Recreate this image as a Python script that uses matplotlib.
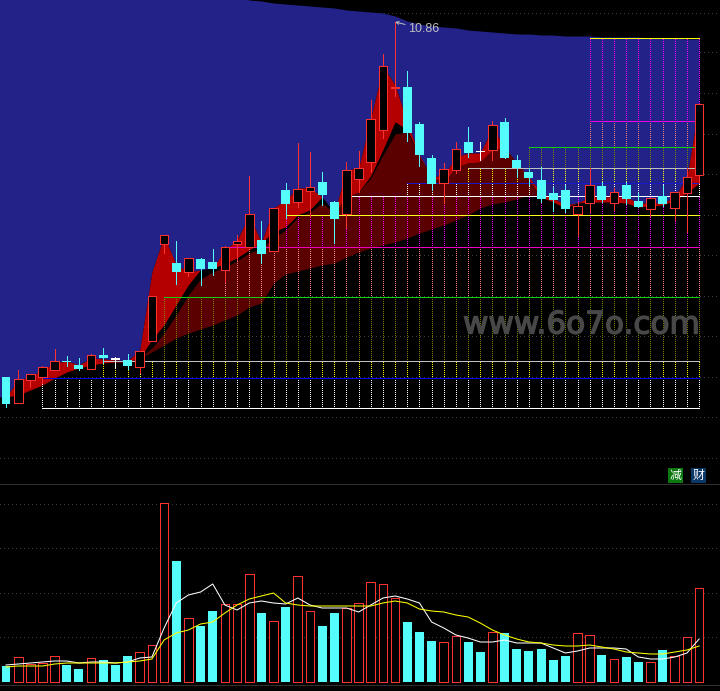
import numpy as np
import matplotlib
matplotlib.use('Agg')
import matplotlib.pyplot as plt
import matplotlib.patheffects as pe

# K线数据
open_p = [3.76, 3.24, 3.70, 3.76, 3.90, 4.08, 4.00, 3.92, 4.20, 4.11, 4.10, 3.96, 4.48, 6.42, 6.04, 5.86, 6.12, 6.06, 5.90, 6.42,
          6.36, 6.50, 6.28, 7.50, 7.26, 7.48, 7.66, 7.26, 7.02, 7.72, 8.06, 8.70, 9.55, 9.56, 8.82, 8.14, 7.64, 7.90, 8.46, 8.26,
          8.30, 8.86, 8.10, 7.86, 7.70, 7.44, 7.50, 7.02, 7.24, 7.58, 7.24, 7.60, 7.28, 7.12, 7.38, 7.14, 7.44, 7.80]
close_p = [3.22, 3.72, 3.82, 3.96, 4.08, 4.06, 3.92, 4.20, 4.14, 4.11, 3.98, 4.28, 5.38, 6.60, 5.86, 6.14, 5.92, 5.92, 6.36, 6.48,
           7.02, 6.22, 7.14, 7.22, 7.52, 7.56, 7.40, 6.92, 7.90, 7.94, 8.92, 9.98, 9.57, 8.64, 8.20, 7.62, 7.92, 8.32, 8.24, 8.26,
           8.80, 8.14, 7.94, 7.74, 7.32, 7.30, 7.12, 7.18, 7.60, 7.30, 7.46, 7.32, 7.16, 7.34, 7.22, 7.46, 7.76, 9.22]
high_p = [3.76, 3.90, 3.82, 3.98, 4.32, 4.18, 4.14, 4.22, 4.34, 4.16, 4.22, 4.28, 5.38, 6.60, 6.48, 6.14, 6.14, 6.32, 6.38, 6.60,
          7.78, 6.88, 7.14, 7.64, 8.44, 8.26, 7.86, 7.28, 8.06, 8.28, 9.30, 10.22, 10.86, 9.88, 8.86, 8.20, 8.04, 8.46, 8.76, 8.46,
          8.88, 8.94, 8.20, 7.94, 7.96, 7.56, 7.60, 7.26, 7.94, 7.66, 7.54, 7.66, 7.44, 7.34, 7.60, 7.46, 7.94, 9.22]
low_p = [3.16, 3.24, 3.56, 3.64, 3.90, 3.98, 3.90, 3.92, 4.04, 3.94, 3.92, 3.84, 4.48, 6.24, 5.62, 5.78, 5.60, 5.80, 5.66, 6.10,
         6.36, 6.04, 6.28, 6.94, 7.16, 6.96, 7.20, 6.44, 6.74, 7.46, 7.86, 8.54, 9.38, 8.48, 7.98, 7.50, 7.24, 7.84, 8.16, 8.10,
         8.10, 8.14, 7.76, 7.60, 7.26, 7.08, 7.06, 6.58, 7.06, 7.26, 7.10, 7.22, 7.16, 6.98, 7.18, 6.90, 6.66, 7.64]

# 背景几条曲线
band_top = [11.40] * 20 + [11.30, 11.28, 11.24, 11.22, 11.20, 11.18, 11.16, 11.14, 11.10, 11.08, 11.06, 11.04, 10.98, 10.88, 10.82, 10.78, 10.76, 10.74, 10.70, 10.68,
                           10.66, 10.64, 10.62, 10.62, 10.60, 10.60, 10.58, 10.58, 10.58, 10.56, 10.56, 10.56, 10.56, 10.54, 10.54, 10.54, 10.52, 10.52]
band_a = [3.36, 3.70, 3.76, 3.90, 4.04, 4.08, 4.00, 4.14, 4.12, 4.10, 4.08, 4.30, 5.86, 6.58, 6.00, 5.86, 5.90, 5.94, 6.30, 6.50,
          7.00, 6.44, 7.14, 7.30, 7.54, 7.54, 7.36, 7.04, 7.90, 7.94, 8.94, 9.96, 9.60, 8.84, 8.20, 7.76, 7.80, 8.16, 8.24, 8.24,
          8.74, 8.36, 8.04, 7.76, 7.44, 7.34, 7.20, 7.24, 7.36, 7.36, 7.36, 7.36, 7.24, 7.24, 7.24, 7.36, 7.76, 9.22]
band_d = [3.36, 3.40, 3.50, 3.60, 3.74, 3.86, 3.94, 4.00, 4.04, 4.06, 4.06, 4.14, 4.26, 4.40, 4.54, 4.64, 4.72, 4.80, 4.90, 5.00,
          5.16, 5.24, 5.64, 5.82, 5.88, 5.94, 6.00, 6.04, 6.16, 6.26, 6.34, 6.40, 6.46, 6.54, 6.64, 6.72, 6.80, 6.90, 7.00, 7.14,
          7.22, 7.26, 7.32, 7.40, 7.36, 7.26, 7.14, 7.24, 7.26, 7.26, 7.26, 7.24, 7.16, 7.18, 7.20, 7.30, 7.44, 7.64]
band_c = band_d[:12] + [4.34, 4.64, 5.00, 5.40, 5.72, 5.86, 5.96, 6.08,
                        6.24, 6.34, 6.54, 6.70, 6.96, 7.06, 7.24, 7.04, 7.36, 7.46, 7.74, 8.20, 8.62, 8.66, 8.16, 7.76, 7.64, 7.96, 8.04, 8.06,
                        8.30, 8.34, 8.04, 7.70] + band_d[44:]
band_b = band_d[:12] + [4.50, 4.80, 5.20, 5.60, 5.90, 5.94, 6.02, 6.14,
                        6.30, 6.44, 6.66, 6.76, 7.00, 7.10, 7.36, 7.04, 7.36, 7.46, 7.78, 8.30, 8.86, 8.70] + band_c[34:]

# 水平线和虚线
levels = [3.14, 3.74, 4.08, 5.36, 6.36, 7.00, 7.38, 7.64, 7.94, 8.36, 8.88, 10.54]
level_start = [3, 3, 8, 13, 18, 23, 28, 33, 38, 43, 48, 48]
level_colors = ['#ffffff', '#0000f0', '#c0c0c0', '#10d010', '#f000c0', '#ffff20', '#ffffff', '#1818c8', '#c0c0c0', '#10d010', '#f000e0', '#ffff00']
dot_colors = ['#ffffff', '#ffff00', '#808000', '#ff8080', '#ff00ff', '#ff00ff', '#ffffff', '#ffff00', '#808000', '#ff8080', '#ff00ff']
price_grid = [11.04, 10.26, 9.44, 8.62, 7.82, 7.00, 6.20, 5.38, 4.58, 3.76, 2.96, 2.14]

# 成交量
volume = [16, 25, 18, 19, 26, 17, 13, 24, 22, 17, 26, 30, 37, 179, 121, 64, 56, 71, 78, 78,
          108, 69, 61, 75, 106, 71, 56, 69, 74, 79, 100, 98, 84, 60, 50, 41, 40, 46, 40, 30,
          50, 49, 33, 31, 33, 22, 26, 49, 47, 27, 23, 25, 20, 20, 32, 26, 45, 94]
vol_ma5 = [17, 18, 19, 20, 21, 21, 19, 20, 20, 19, 20, 24, 25, 54, 79, 87, 90, 98, 77, 72,
           79, 81, 79, 78, 84, 77, 74, 74, 74, 70, 77, 84, 86, 83, 79, 60, 54, 47, 44, 40,
           40, 42, 39, 39, 39, 34, 29, 31, 34, 34, 34, 33, 25, 23, 23, 25, 29, 43]
vol_ma10 = [15, 16, 16, 16, 18, 19, 19, 19, 19, 19, 20, 21, 23, 42, 49, 52, 58, 60, 69, 77,
            83, 86, 89, 79, 77, 76, 76, 76, 76, 76, 76, 79, 81, 79, 73, 71, 70, 67, 65, 59,
            52, 47, 43, 40, 39, 37, 36, 36, 37, 35, 33, 30, 29, 28, 28, 30, 32, 36]
vol_grid = [178, 134, 89, 45]

RED = '#ff3232'
CYAN = '#54fcfc'
W = 720
H = 691
DIV = 483
xlim = (-6 / 12.16, (W - 6) / 12.16)

open_p = np.array(open_p)
close_p = np.array(close_p)
x = np.arange(len(open_p))
colors = np.where(close_p > open_p, RED, np.where(close_p < open_p, CYAN, '#ffffff'))
x_fill = np.r_[-1, x]


def ext(v):
    return np.r_[v[0], v]


fig = plt.figure(figsize=(W / 100, H / 100), dpi=100, facecolor='black')
ax = fig.add_axes([0, 1 - DIV / H, 1, DIV / H], facecolor='black')
ax2 = fig.add_axes([0, 0, 1, (H - DIV) / H], facecolor='black')

# 主图
for g in price_grid:
    ax.axhline(g, color='#3c3c3c', lw=0.72, ls=(0, (1, 4)), zorder=1, antialiased=False)
ax.fill_between(x_fill, ext(band_a), ext(band_top), color='#222288', lw=0, zorder=2)
ax.fill_between(x_fill, ext(band_b), ext(band_a), color='#b40000', lw=0, zorder=2)
ax.fill_between(x_fill, ext(band_c), ext(band_b), color='black', lw=0, zorder=2)
ax.fill_between(x_fill, ext(band_d), ext(band_c), color='#5a0000', lw=0, zorder=2)

for k in range(len(levels) - 1):
    for i in x[level_start[k + 1]:]:
        ax.plot([i, i], [levels[k], levels[k + 1]], color=dot_colors[k], lw=0.72, ls=(0, (1, 2)), zorder=3, antialiased=False)
for k in range(len(levels)):
    ax.plot([level_start[k], x[-1]], [levels[k], levels[k]], color=level_colors[k], lw=0.72, zorder=4, antialiased=False)

for i in x:
    ax.plot([i, i], [low_p[i], high_p[i]], color=colors[i], lw=0.72, zorder=5, antialiased=False)
body = np.abs(close_p - open_p)
bottom = np.minimum(open_p, close_p)
is_up = close_p > open_p
ax.bar(x[is_up], body[is_up], bottom=bottom[is_up], width=0.72, facecolor='black', edgecolor=RED, lw=0.72, zorder=6, antialiased=False)
ax.bar(x[~is_up], np.maximum(body[~is_up], 0.03), bottom=bottom[~is_up], width=0.74, color=colors[~is_up], lw=0, zorder=6, antialiased=False)

wm = ax.text(463 / W, 1 - 325 / DIV, 'www.6o7o.com', transform=ax.transAxes, color='#484848', fontsize=22.4,
             zorder=7, ha='left', va='center', family='DejaVu Sans')
wm.set_path_effects([pe.withStroke(linewidth=1.0, foreground='#484848')])
ax.annotate('10.86', xy=(32, 10.86), xytext=(33.05, 10.72), color='#c0c0c0', fontsize=9, family='Liberation Sans',
            va='center', zorder=8, arrowprops=dict(arrowstyle='->', color='#c0c0c0', lw=0.7, shrinkA=0, shrinkB=0, mutation_scale=5))

ax.set_xlim(xlim)
ax.set_ylim(11.30 - 0.02 * DIV, 11.30)
ax.axis('off')

# 成交量图
for g in vol_grid:
    ax2.axhline(g, color='#3c3c3c', lw=0.72, ls=(0, (1, 4)), zorder=1, antialiased=False)
volume = np.array(volume)
ax2.bar(x[is_up], volume[is_up], width=0.72, facecolor='black', edgecolor=RED, lw=0.72, zorder=2, antialiased=False)
ax2.bar(x[~is_up], volume[~is_up], width=0.74, color=CYAN, lw=0, zorder=2, antialiased=False)
ax2.plot(x, vol_ma5, color='white', lw=0.75, zorder=3)
ax2.plot(x, vol_ma10, color='#ffff00', lw=0.75, zorder=4)
ax2.axhline(-3, color='#303030', lw=0.72, antialiased=False)
ax2.axhline(198.5, color='#303030', lw=0.72, antialiased=False)
ax2.set_xlim(xlim)
ax2.set_ylim(682 - H, 682 - DIV)
ax2.axis('off')

# 右上角两个小标
for px, ch, c in [(675.5, '减', '#0a780f'), (698.5, '财', '#0a3668')]:
    fig.text(px / W, 1 - 475.5 / H, ch, color='white', fontsize=8.6, ha='center', va='center',
             family=['Noto Sans CJK SC', 'DejaVu Sans'], bbox=dict(facecolor=c, edgecolor='none', pad=1.0))

fig.savefig('out.png', dpi=100, facecolor='black')
